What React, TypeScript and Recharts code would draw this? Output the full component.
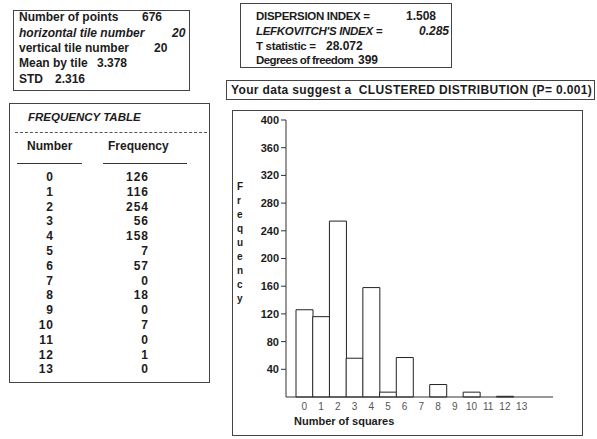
import React from 'react';
import { BarChart, Bar, XAxis, YAxis, Label } from 'recharts';

const numbers = [0, 1, 2, 3, 4, 5, 6, 7, 8, 9, 10, 11, 12, 13];
const frequencies = [126, 116, 254, 56, 158, 7, 57, 0, 18, 0, 7, 0, 1, 0];
const yTicks = [40, 80, 120, 160, 200, 240, 280, 320, 360, 400];
const yLetters = ['F', 'r', 'e', 'q', 'u', 'e', 'n', 'c', 'y'];

const chartData = numbers.map((n, i) => ({ number: String(n), freq: frequencies[i] }));

const FONT = '"Liberation Sans", Arial, sans-serif';
const INK = '#1c1c1c';

// text helper, y is the vertical centre of the line
function T({ x, y, right, italic, children, style }: any) {
  const pos: any = right ? { right: 597 - x } : { left: x };
  return (
    <div
      style={{
        position: 'absolute',
        top: y - 7,
        lineHeight: '14px',
        fontSize: 12,
        fontWeight: 'bold',
        fontStyle: italic ? 'italic' : 'normal',
        whiteSpace: 'nowrap',
        color: INK,
        ...pos,
        ...style,
      }}
    >
      {children}
    </div>
  );
}

function Box({ x, y, w, h }: any) {
  return (
    <div
      style={{
        position: 'absolute',
        left: x,
        top: y,
        width: w,
        height: h,
        boxSizing: 'border-box',
        border: '1px solid #444',
      }}
    />
  );
}

const YLetters = (props: any) => {
  const vb = props.viewBox;
  return (
    <g>
      {yLetters.map((ch, i) => (
        <text
          key={i}
          x={vb.x + 5}
          y={vb.y + 66 + i * 14}
          dominantBaseline="central"
          fontSize={10}
          fontWeight="bold"
          fill={INK}
          fontFamily={FONT}
        >
          {ch}
        </text>
      ))}
    </g>
  );
};

const XTitle = (props: any) => {
  const vb = props.viewBox;
  return (
    <text x={vb.x + 8} y={vb.y + 28} fontSize={11} fontWeight="bold" fill={INK} fontFamily={FONT}>
      Number of squares
    </text>
  );
};

// box 2 uses a tighter setting, the original face is narrower there
const tight = { fontSize: 11.5, letterSpacing: -0.3 };

export default function App() {
  return (
    <div
      style={{
        position: 'absolute',
        left: 0,
        top: 0,
        width: 597,
        height: 439,
        background: '#fff',
        fontFamily: FONT,
        overflow: 'hidden',
      }}
    >
      {/* summary box */}
      <Box x={13} y={10} w={177} h={81} />
      <T x={19} y={17}>Number of points</T>
      <T x={142} y={17}>676</T>
      <T x={19} y={33} italic>horizontal tile number</T>
      <T x={172} y={33} italic>20</T>
      <T x={19} y={48}>vertical tile number</T>
      <T x={154} y={48}>20</T>
      <T x={19} y={63}>Mean by tile</T>
      <T x={97} y={63}>3.378</T>
      <T x={19} y={79}>STD</T>
      <T x={55} y={79}>2.316</T>

      {/* indices box */}
      <Box x={240} y={3} w={212} h={65} />
      <T x={256} y={16} style={tight}>DISPERSION INDEX =</T>
      <T x={406} y={16}>1.508</T>
      <T x={256} y={31} italic style={tight}>LEFKOVITCH'S INDEX =</T>
      <T x={419} y={31} italic>0.285</T>
      <T x={256} y={46} style={tight}>T statistic =</T>
      <T x={326} y={46}>28.072</T>
      <T x={256} y={60} style={{ fontSize: 11.5, letterSpacing: -0.6 }}>Degrees of freedom</T>
      <T x={358} y={60}>399</T>

      {/* verdict banner */}
      <Box x={226} y={80} w={369} h={20} />
      <T x={231} y={90} style={{ letterSpacing: 0.35 }}>
        Your data suggest a&nbsp; CLUSTERED DISTRIBUTION (P= 0.001)
      </T>

      {/* frequency table */}
      <Box x={9} y={103} w={201} h={280} />
      <T x={28} y={117} italic style={{ fontSize: 11.5 }}>FREQUENCY TABLE</T>
      <div style={{ position: 'absolute', left: 15, top: 132, width: 192, borderTop: '1px dashed #555' }} />
      <T x={27} y={146}>Number</T>
      <T x={108} y={146}>Frequency</T>
      <div style={{ position: 'absolute', left: 17, top: 163, width: 65, borderTop: '1px solid #333' }} />
      <div style={{ position: 'absolute', left: 103, top: 163, width: 84, borderTop: '1px solid #333' }} />
      {numbers.map((n, i) => (
        <React.Fragment key={n}>
          <T x={54} y={177 + i * 14.8} right style={{ letterSpacing: 1 }}>{n}</T>
          <T x={149} y={177 + i * 14.8} right style={{ letterSpacing: 1 }}>{frequencies[i]}</T>
        </React.Fragment>
      ))}

      {/* histogram */}
      <Box x={232} y={110} w={351} h={326} />
      <div style={{ position: 'absolute', left: 232, top: 110 }}>
        <BarChart
          width={351}
          height={326}
          data={chartData}
          margin={{ top: 10, right: 30, bottom: 0, left: 0 }}
          barCategoryGap={0}
        >
          <XAxis
            dataKey="number"
            height={39}
            interval={0}
            tickLine={false}
            tickMargin={0}
            padding={{ left: 10, right: 23 }}
            stroke="#333"
            tick={{ fontSize: 10, fill: '#555', fontFamily: FONT }}
          >
            <Label content={XTitle} />
          </XAxis>
          <YAxis
            width={54}
            domain={[0, 400]}
            ticks={yTicks}
            interval={0}
            tickSize={5}
            tickMargin={2}
            stroke="#333"
            tick={{ fontSize: 11, fontWeight: 'bold', fill: INK, fontFamily: FONT }}
          >
            <Label content={YLetters} />
          </YAxis>
          <Bar dataKey="freq" fill="#fff" stroke="#222" strokeWidth={1} isAnimationActive={false} />
        </BarChart>
      </div>
    </div>
  );
}
